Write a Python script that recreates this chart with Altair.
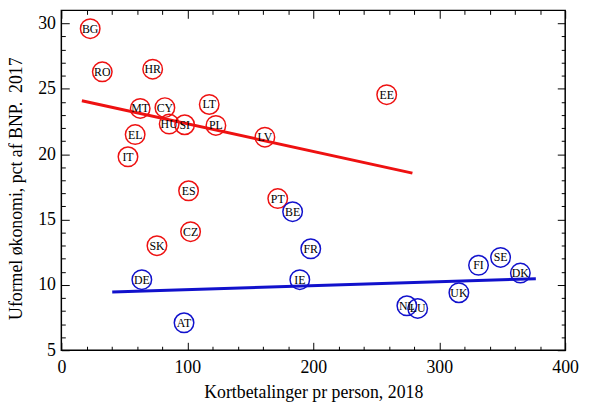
import altair as alt
import pandas as pd

# ---- data ----
countries = ["BG", "RO", "HR", "MT", "CY", "LT", "HU", "SI", "PL", "LV", "EL", "IT", "EE",
             "ES", "PT", "CZ", "SK",
             "BE", "FR", "IE", "DE", "AT", "NL", "LU", "UK", "FI", "SE", "DK"]
card_payments = [22.9, 32.5, 72.5, 62.6, 82.2, 117.4, 85.6, 97.9, 122.7, 161.6, 58.6, 52.9, 258.3,
                 101.0, 171.8, 102.6, 75.9,
                 183.6, 198.0, 189.3, 63.9, 97.4, 274.3, 282.9, 315.6, 331.2, 348.7, 364.4]
informal_economy = [29.6, 26.3, 26.5, 23.5, 23.56, 23.8, 22.3, 22.25, 22.2, 21.3, 21.5, 19.8, 24.55,
                    17.2, 16.6, 14.07, 13.0,
                    15.6, 12.76, 10.4, 10.4, 7.1, 8.4, 8.2, 9.4, 11.5, 12.1, 10.9]
groups = ["Syd/Øst"] * 17 + ["Nord/Vest"] * 11

# fitted lines (end points)
line_group = ["Syd/Øst", "Syd/Øst", "Nord/Vest", "Nord/Vest"]
line_x = [16.3, 278.7, 40.4, 376.7]
line_y = [24.09, 18.55, 9.46, 10.47]

# tick values
x_major = [0, 100, 200, 300, 400]
x_minor = [20, 40, 60, 80, 120, 140, 160, 180, 220, 240, 260, 280, 320, 340, 360, 380]
y_major = [5, 10, 15, 20, 25, 30]
y_minor = [6, 7, 8, 9, 11, 12, 13, 14, 16, 17, 18, 19, 21, 22, 23, 24, 26, 27, 28, 29]

group_names = ["Syd/Øst", "Nord/Vest"]
group_colors = ["#ee1111", "#1111cc"]

FONT = "Liberation Serif"

df = pd.DataFrame({"land": countries, "kort": card_payments,
                   "uformel": informal_economy, "gruppe": groups})
df_lines = pd.DataFrame({"gruppe": line_group, "kort": line_x, "uformel": line_y})

x_scale = alt.Scale(domain=[0, 400], nice=False, zero=False)
y_scale = alt.Scale(domain=[5, 31], nice=False, zero=False)
color_scale = alt.Scale(domain=group_names, range=group_colors)


def axis(orient, values, size, **kw):
    params = dict(orient=orient, values=values, tickSize=size, offset=-size,
                  domain=False, grid=False, tickColor="black", tickWidth=1,
                  labels=False, title=None)
    params.update(kw)
    return alt.Axis(**params)


points = alt.Chart(df).mark_point(shape="circle", filled=False, size=390,
                                  strokeWidth=1.5, opacity=1).encode(
    x=alt.X("kort:Q", scale=x_scale,
            axis=axis("bottom", x_major, 8, labels=True, labelPadding=9,
                      labelFlush=False,
                      title="Kortbetalinger pr person, 2018",
                      titleY=56, titleBaseline="alphabetic")),
    y=alt.Y("uformel:Q", scale=y_scale,
            axis=axis("left", y_major, 8, labels=True, labelPadding=6,
                      title="Uformel økonomi, pct af BNP.\u00a0 2017",
                      titleX=-48, titleY=180, titleAngle=270,
                      titleBaseline="alphabetic")),
    color=alt.Color("gruppe:N", scale=color_scale, legend=None),
)

red_line = alt.Chart(df_lines).transform_filter(
    alt.datum.gruppe == group_names[0]
).mark_line(strokeWidth=3).encode(
    x=alt.X("kort:Q", scale=x_scale, axis=axis("bottom", x_minor, 4)),
    y=alt.Y("uformel:Q", scale=y_scale, axis=axis("left", y_minor, 4)),
    color=alt.Color("gruppe:N", scale=color_scale, legend=None),
)

blue_line = alt.Chart(df_lines).transform_filter(
    alt.datum.gruppe == group_names[1]
).mark_line(strokeWidth=3).encode(
    x=alt.X("kort:Q", scale=x_scale, axis=axis("top", x_major, 8)),
    y=alt.Y("uformel:Q", scale=y_scale, axis=axis("right", y_major, 8)),
    color=alt.Color("gruppe:N", scale=color_scale, legend=None),
)

labels = alt.Chart(df).mark_text(font=FONT, fontSize=12, color="black",
                                 align="center", baseline="middle").encode(
    x=alt.X("kort:Q", scale=x_scale, axis=axis("top", x_minor, 4)),
    y=alt.Y("uformel:Q", scale=y_scale, axis=axis("right", y_minor, 4)),
    text="land:N",
)

chart = alt.layer(red_line, blue_line, points, labels).resolve_axis(
    x="independent", y="independent"
).properties(
    width=510, height=344,
    autosize=alt.AutoSizeParams(type="none"),
    padding={"left": 54, "top": 0, "right": 16, "bottom": 50},
    background="white",
).configure_view(
    stroke="black", strokeWidth=1.5
).configure_axis(
    labelFont=FONT, titleFont=FONT, labelFontSize=18, titleFontSize=18,
    titleFontWeight="normal", labelColor="black", titleColor="black",
)

chart.save("out.html", embed_options={"renderer": "svg", "actions": False})
